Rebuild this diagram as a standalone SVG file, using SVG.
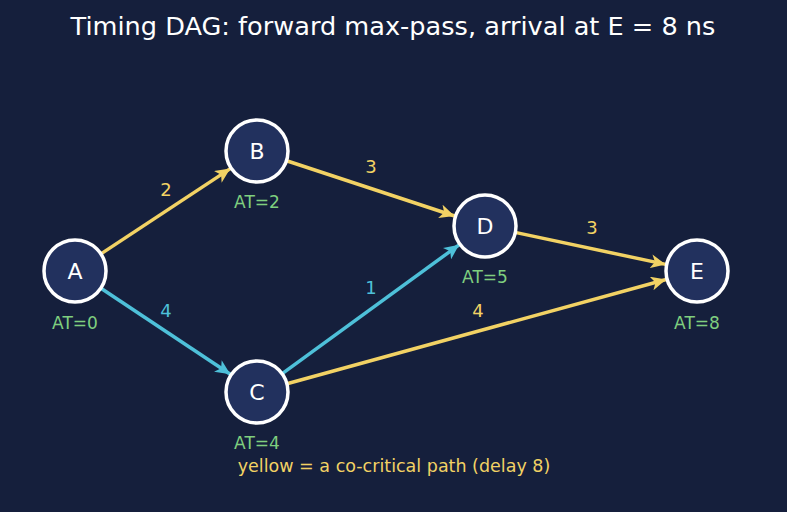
<svg xmlns="http://www.w3.org/2000/svg" width="787" height="512" viewBox="0 0 787 512">
<style>
text{font-family:"DejaVu Sans","Liberation Sans",sans-serif;}
.node circle{fill:#22315e;stroke:#ffffff;stroke-width:3.5;}
.nl{fill:#ffffff;font-size:22px;text-anchor:middle;dominant-baseline:central;}
.at{fill:#7fcf7f;font-size:17px;text-anchor:middle;dominant-baseline:central;}
.y{stroke:#f2d264;stroke-width:3.5;fill:none;}
.c{stroke:#4ec0d9;stroke-width:3.5;fill:none;}
.ly{fill:#f2d264;font-size:18px;text-anchor:middle;dominant-baseline:central;}
.lc{fill:#4ec0d9;font-size:18px;text-anchor:middle;dominant-baseline:central;}
</style>
<defs>
<marker id="ay" markerWidth="18" markerHeight="14" refX="15" refY="7" orient="auto" markerUnits="userSpaceOnUse"><path d="M0,0 L15,7 L0,14 L4,7 Z" fill="#f2d264"/></marker>
<marker id="ac" markerWidth="18" markerHeight="14" refX="15" refY="7" orient="auto" markerUnits="userSpaceOnUse"><path d="M0,0 L15,7 L0,14 L4,7 Z" fill="#4ec0d9"/></marker>
</defs>
<rect width="787" height="512" fill="#151f3c"/>
<text x="393" y="26" fill="#ffffff" font-size="25.6" text-anchor="middle" dominant-baseline="central">Timing DAG: forward max-pass, arrival at E = 8 ns</text>
<g id="connectors">
<line class="y" x1="101.7" y1="253.4" x2="230.3" y2="168.6" marker-end="url(#ay)"/>
<line class="c" x1="101.7" y1="288.7" x2="230.3" y2="374.3" marker-end="url(#ac)"/>
<line class="y" x1="287.4" y1="161" x2="454.6" y2="216" marker-end="url(#ay)"/>
<line class="c" x1="282.9" y1="373.2" x2="459.1" y2="244.8" marker-end="url(#ac)"/>
<line class="y" x1="516.3" y1="232.6" x2="665.7" y2="264.4" marker-end="url(#ay)"/>
<line class="y" x1="287.9" y1="383.5" x2="666.1" y2="279.5" marker-end="url(#ay)"/>
<text class="ly" x="166" y="189">2</text>
<text class="lc" x="166" y="310">4</text>
<text class="ly" x="371" y="166">3</text>
<text class="lc" x="371" y="287">1</text>
<text class="ly" x="592" y="227">3</text>
<text class="ly" x="478" y="310">4</text>
</g>
<g id="A" class="node"><circle cx="75" cy="271" r="31"/><text class="nl" x="75" y="271">A</text><text class="at" x="75" y="323">AT=0</text></g>
<g id="B" class="node"><circle cx="257" cy="151" r="31"/><text class="nl" x="257" y="151">B</text><text class="at" x="257" y="202">AT=2</text></g>
<g id="C" class="node"><circle cx="257" cy="392" r="31"/><text class="nl" x="257" y="392">C</text><text class="at" x="257" y="443">AT=4</text></g>
<g id="D" class="node"><circle cx="485" cy="226" r="31"/><text class="nl" x="485" y="226">D</text><text class="at" x="485" y="277">AT=5</text></g>
<g id="E" class="node"><circle cx="697" cy="271" r="31"/><text class="nl" x="697" y="271">E</text><text class="at" x="697" y="323">AT=8</text></g>
<text x="394" y="466" fill="#f2d264" font-size="17.5" text-anchor="middle" dominant-baseline="central">yellow = a co-critical path (delay 8)</text>
</svg>
